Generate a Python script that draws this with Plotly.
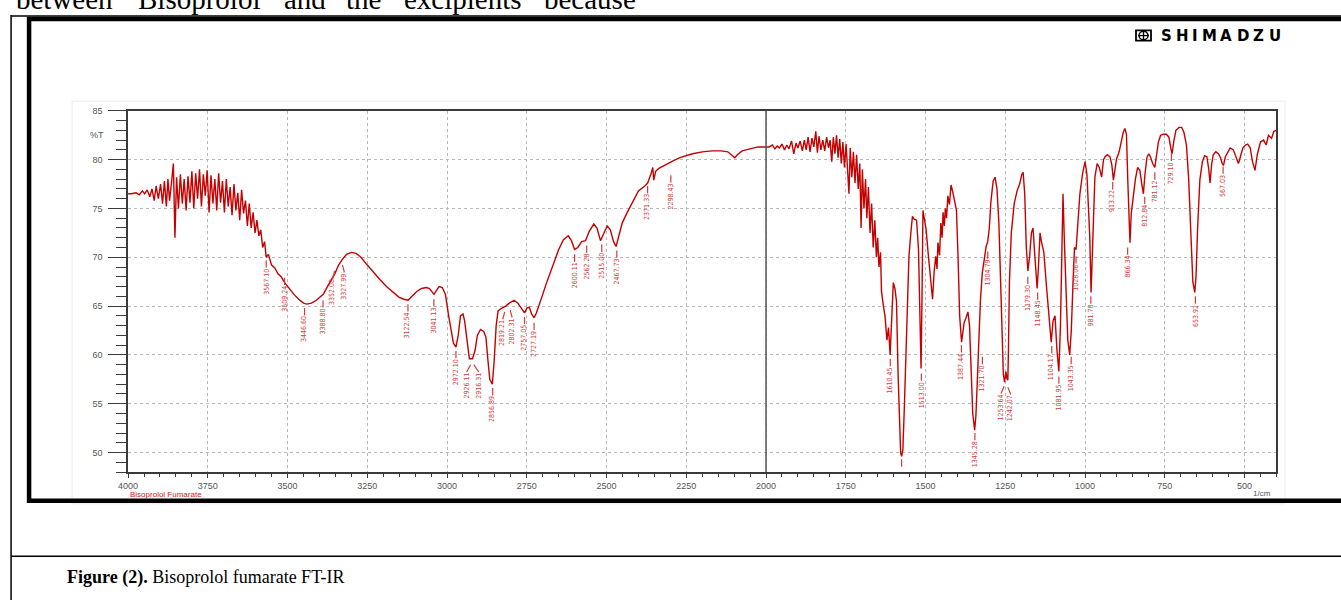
import plotly.graph_objects as go

W, H = 1341, 600

# ---------------- data ----------------
wavenumber = [
    4000, 3990, 3975, 3965, 3955, 3948, 3940, 3932, 3925, 3918, 3912, 3905, 3898, 3892, 3886, 3880,
    3875, 3870, 3864, 3858, 3853, 3848, 3842, 3836, 3830, 3824, 3818, 3812, 3806, 3800, 3794, 3788,
    3782, 3776, 3770, 3764, 3758, 3752, 3746, 3740, 3734, 3728, 3722, 3716, 3710, 3704, 3698, 3692,
    3686, 3680, 3674, 3668, 3662, 3656, 3650, 3644, 3638, 3632, 3626, 3620, 3614, 3608, 3602, 3596,
    3590, 3584, 3578, 3572, 3567, 3560, 3550, 3540, 3530, 3520, 3509, 3495, 3480, 3465, 3450, 3440,
    3425, 3410, 3395, 3388, 3375, 3360, 3352, 3340, 3328, 3315, 3300, 3285, 3270, 3250, 3230, 3210,
    3190, 3170, 3150, 3135, 3122, 3110, 3095, 3080, 3065, 3055, 3045, 3041, 3035, 3025, 3015, 3005,
    2995, 2988, 2980, 2972, 2965, 2958, 2950, 2945, 2938, 2930, 2920, 2912, 2905, 2895, 2885, 2878,
    2872, 2866, 2858, 2852, 2846, 2840, 2828, 2816, 2805, 2790, 2778, 2768, 2757, 2750, 2742, 2735,
    2727, 2720, 2712, 2700, 2690, 2680, 2665, 2650, 2635, 2620, 2610, 2600, 2590, 2578, 2566, 2555,
    2540, 2530, 2519, 2510, 2498, 2488, 2478, 2470, 2460, 2451, 2435, 2420, 2400, 2380, 2371, 2360,
    2355, 2352, 2346, 2336, 2320, 2305, 2290, 2270, 2250, 2230, 2200, 2170, 2140, 2120, 2105, 2098,
    2090, 2075, 2050, 2025, 2000, 1990, 1980, 1972, 1965, 1958, 1950, 1942, 1935, 1928, 1920, 1913,
    1906, 1900, 1893, 1886, 1880, 1874, 1868, 1862, 1856, 1850, 1844, 1839, 1834, 1828, 1822, 1816,
    1810, 1804, 1799, 1794, 1789, 1784, 1779, 1774, 1769, 1764, 1759, 1754, 1749, 1744, 1740, 1736,
    1731, 1726, 1721, 1716, 1711, 1706, 1702, 1698, 1693, 1688, 1684, 1679, 1674, 1669, 1664, 1659,
    1654, 1650, 1646, 1641, 1638, 1632, 1627, 1621, 1616, 1611, 1606, 1601, 1596, 1591, 1586, 1582,
    1578, 1575, 1571, 1566, 1561, 1557, 1552, 1546, 1541, 1536, 1528, 1522, 1517, 1514, 1511, 1508,
    1503, 1498, 1492, 1485, 1478, 1473, 1468, 1464, 1461, 1456, 1452, 1448, 1445, 1441, 1438, 1434,
    1430, 1425, 1420, 1414, 1408, 1403, 1398, 1393, 1387, 1383, 1379, 1373, 1367, 1362, 1357, 1352,
    1346, 1342, 1338, 1334, 1328, 1322, 1316, 1310, 1305, 1300, 1295, 1288, 1282, 1276, 1270, 1265,
    1260, 1256, 1252, 1248, 1245, 1242, 1240, 1237, 1231, 1222, 1213, 1205, 1198, 1194, 1189, 1184,
    1179, 1174, 1168, 1163, 1157, 1150, 1146, 1141, 1136, 1129, 1122, 1116, 1111, 1106, 1100, 1094,
    1088, 1082, 1077, 1073, 1069, 1065, 1060, 1054, 1048, 1043, 1038, 1033, 1028, 1022, 1016, 1008,
    1000, 994, 990, 985, 981, 977, 972, 969, 962, 955, 948, 942, 937, 930, 922, 916,
    911, 906, 901, 893, 886, 880, 875, 870, 866, 862, 859, 855, 849, 842, 835, 828,
    822, 817, 812, 806, 800, 795, 788, 781, 776, 770, 763, 755, 745, 737, 730, 727,
    722, 715, 705, 697, 690, 682, 675, 668, 662, 656, 652, 647, 640, 632, 625, 618,
    612, 608, 603, 598, 590, 582, 575, 570, 566, 560, 553, 545, 535, 527, 519, 512,
    505, 497, 490, 482, 475, 467, 460, 450, 440, 432, 425, 415, 408, 400,
]
transmittance = [
    76.5, 76.5, 76.6, 76.4, 76.8, 76.5, 76.9, 76.2, 77.0, 75.8, 77.3, 76.0, 77.5, 75.5, 77.8, 75.2,
    78.0, 75.8, 77.6, 79.6, 72.0, 78.2, 75.0, 78.5, 75.5, 78.0, 74.8, 78.3, 75.6, 78.8, 75.0, 78.6,
    76.0, 79.0, 75.2, 78.5, 76.3, 78.9, 74.6, 78.4, 75.5, 78.0, 74.8, 78.6, 75.6, 77.8, 74.6, 78.0,
    75.2, 77.2, 74.3, 77.5, 74.8, 76.6, 73.8, 76.9, 74.5, 75.8, 73.2, 75.5, 73.0, 74.6, 72.5, 73.8,
    72.2, 72.8, 71.0, 71.6, 70.0, 70.3, 69.2, 68.9, 68.3, 68.0, 67.4, 66.8, 66.2, 65.7, 65.3, 65.2,
    65.3, 65.6, 66.0, 66.2, 67.0, 67.8, 68.3, 69.2, 69.8, 70.3, 70.5, 70.4, 70.0, 69.2, 68.4, 67.7,
    67.0, 66.4, 65.9, 65.7, 65.6, 66.0, 66.5, 66.8, 66.9, 66.8, 66.3, 66.2, 66.5, 67.0, 66.9, 66.2,
    64.0, 62.5, 61.2, 60.8, 62.0, 64.0, 64.2, 63.5, 61.5, 59.6, 59.6, 60.5, 62.0, 62.6, 62.4, 61.8,
    59.5, 57.5, 57.0, 59.5, 63.0, 64.5, 64.8, 65.0, 65.3, 65.6, 65.3, 64.8, 64.3, 64.8, 64.9, 64.2,
    63.8, 64.3, 65.0, 66.2, 67.2, 68.1, 69.5, 70.8, 71.8, 72.2, 71.7, 70.8, 71.0, 71.6, 71.7, 72.6,
    73.4, 73.0, 71.7, 72.4, 73.2, 72.8, 71.6, 71.1, 72.4, 73.5, 74.6, 75.5, 76.8, 77.3, 77.6, 78.6,
    79.2, 77.9, 78.8, 79.1, 79.4, 79.6, 79.9, 80.2, 80.4, 80.6, 80.8, 80.9, 80.9, 80.8, 80.4, 80.2,
    80.5, 80.9, 81.1, 81.3, 81.3, 81.3, 81.5, 81.1, 81.4, 81.2, 81.6, 81.0, 81.5, 81.1, 81.9, 80.6,
    81.7, 81.2, 81.9, 80.9, 82.0, 81.0, 82.3, 80.8, 82.2, 81.3, 82.9, 80.7, 82.4, 81.0, 82.0, 80.9,
    82.3, 81.2, 82.0, 79.8, 82.3, 80.6, 82.5, 80.2, 82.1, 79.6, 81.8, 79.2, 81.6, 78.6, 76.5, 81.2,
    78.2, 80.8, 77.6, 80.5, 77.0, 79.6, 73.0, 79.0, 75.0, 78.0, 74.0, 77.2, 72.5, 75.5, 71.0, 73.8,
    70.0, 72.0, 69.0, 70.5, 66.5, 65.0, 64.0, 61.5, 62.8, 60.0, 63.5, 67.4, 66.8, 65.5, 58.0, 53.0,
    50.0, 49.6, 50.3, 55.0, 61.0, 66.0, 70.1, 72.5, 74.2, 73.9, 73.8, 70.8, 62.0, 58.6, 66.0, 74.8,
    73.8, 72.8, 70.5, 68.0, 65.7, 68.5, 70.1, 68.8, 71.5, 70.2, 73.5, 72.0, 74.6, 73.2, 75.0, 74.0,
    76.3, 75.4, 77.4, 76.6, 75.5, 74.8, 70.0, 64.0, 61.3, 62.5, 63.3, 63.8, 64.4, 63.0, 58.0, 54.0,
    52.3, 53.8, 57.0, 60.6, 65.5, 68.4, 70.0, 71.1, 71.6, 73.0, 75.7, 77.8, 78.2, 77.0, 73.5, 68.0,
    61.5, 58.0, 57.2, 58.3, 57.6, 57.4, 60.5, 67.4, 72.5, 75.5, 76.8, 77.5, 78.5, 78.7, 76.5, 71.0,
    68.6, 70.0, 72.5, 73.0, 70.0, 66.8, 69.0, 72.5, 71.5, 70.5, 67.5, 65.0, 62.5, 61.3, 63.5, 64.0,
    60.5, 58.3, 63.0, 70.0, 76.5, 72.0, 66.0, 61.5, 60.0, 62.5, 67.0, 71.0, 70.8, 74.0, 76.5, 78.5,
    79.8, 78.5, 76.2, 72.0, 66.4, 70.0, 76.0, 78.2, 79.6, 79.2, 78.2, 80.0, 80.3, 80.5, 80.3, 79.5,
    77.9, 79.2, 80.1, 80.8, 82.0, 82.8, 83.2, 82.6, 78.0, 73.0, 71.5, 74.5, 76.2, 78.0, 79.2, 78.9,
    77.5, 76.5, 78.5, 80.2, 80.6, 80.3, 79.6, 79.2, 80.4, 81.8, 82.5, 82.6, 82.6, 82.3, 81.0, 80.6,
    81.8, 83.0, 83.3, 83.3, 82.8, 81.5, 78.0, 72.0, 67.5, 66.4, 68.0, 73.0, 77.9, 79.8, 80.4, 80.3,
    79.0, 77.6, 79.5, 80.5, 80.8, 80.6, 80.2, 79.6, 79.4, 80.3, 80.8, 81.2, 81.0, 80.3, 79.6, 80.4,
    81.2, 81.5, 81.6, 81.2, 79.8, 78.9, 80.5, 81.8, 82.0, 81.5, 82.5, 82.2, 82.9, 83.0,
]

peak_labels = [
    "3567.10", "3509.24", "3446.60", "3388.80", "3352.08", "3327.99", "3122.54", "3041.13",
    "2972.10", "2926.11", "2916.31", "2856.89", "2819.21", "2802.31", "2757.05", "2727.19",
    "2600.11", "2562.28", "2515.00", "2467.73", "2371.33", "2298.43",
    "1610.45", "1513.00", "1387.44", "1345.28", "1321.70", "1304.79", "1253.64", "1242.07",
    "1179.30", "1148.45", "1104.17", "1081.95", "1043.35", "1028.06",
    "981.70", "913.22", "866.34", "812.84", "781.12", "729.10", "653.92", "567.03",
]
peak_marker_T = [
    69.7, 67.9, 64.8, 65.6, 68.6, 69.2, 65.2, 65.7,
    60.4, 59.0, 59.0, 56.6, 64.4, 64.6, 63.9, 63.3,
    70.3, 71.2, 71.3, 70.7, 77.3, 78.4,
    59.6, 58.1, 61.0, 52.0, 59.8, 70.6, 56.8, 56.7,
    68.0, 66.4, 60.9, 57.8, 59.8, 70.1,
    66.0, 77.7, 71.0, 76.2, 78.7, 80.6, 66.0, 79.3,
]
clipped_peak = 1575.0
clipped_peak_T = 49.3

x_tick_vals = [4000, 3750, 3500, 3250, 3000, 2750, 2500, 2250, 2000, 1750, 1500, 1250, 1000, 750, 500]
x_tick_text = [str(v) for v in x_tick_vals]
y_tick_vals = [50, 55, 60, 65, 70, 75, 80, 85]
y_tick_text = [str(v) for v in y_tick_vals]

top_words = ["between", "Bisoprolol", "and", "the", "excipients", "because"]
top_word_x = [14, 136, 282, 344, 402, 542]
logo_letters = list("SHIMADZU")
logo_letter_x = [1166, 1182, 1195, 1209, 1226, 1243, 1259, 1275]

label_shift = {"2926.11": -4, "2916.31": 5, "3352.08": -2, "3327.99": 2,
               "2819.21": -2, "2802.31": 2, "1253.64": -3, "1242.07": 3}


# the captured page shows x as about 9.9 + 0.9926 * x, so target positions are mapped back
def px(x):
    return ((x - 9.93) / 0.9926) / W


def py(y):
    return 1 - y / H


RED = "#c40000"
LABEL_RED = "#d23c3c"
GRAY = "#555555"
NARROW = "Liberation Sans Narrow, DejaVu Sans Condensed, Arial Narrow, sans-serif"
SANS = "Liberation Sans, Arial, sans-serif"
SERIF = "Liberation Serif, Times New Roman, serif"
PX_PER_WN = (1276.4 - 128) / 3600.0

fig = go.Figure()

fig.add_trace(go.Scatter(
    x=wavenumber, y=transmittance, mode="lines",
    line=dict(color=RED, width=1.4), hoverinfo="skip", showlegend=False,
))

tick_len = 0.75
mx, my = [], []
for lab, t in zip(peak_labels, peak_marker_T):
    w = float(lab)
    dw = -label_shift.get(lab, 0) / PX_PER_WN
    mx += [w, w + dw, None]
    my += [t, t - tick_len, None]
mx += [clipped_peak, clipped_peak, None]
my += [clipped_peak_T, clipped_peak_T - tick_len, None]
fig.add_trace(go.Scatter(
    x=mx, y=my, mode="lines", line=dict(color=LABEL_RED, width=1.2),
    hoverinfo="skip", showlegend=False,
))

for lab, t in zip(peak_labels, peak_marker_T):
    fig.add_annotation(
        x=float(lab), y=t - tick_len, xref="x", yref="y", text=lab,
        xshift=label_shift.get(lab, 0),
        textangle=-90, showarrow=False, xanchor="center", yanchor="top",
        borderpad=0, font=dict(size=7, color=LABEL_RED, family=NARROW),
    )

fig.add_shape(type="line", xref="x", yref="y", x0=2000, x1=2000, y0=48, y1=85,
              line=dict(color="#555555", width=1.5))

shapes = [
    dict(type="rect", xref="paper", yref="paper", x0=px(72), x1=px(1285), y0=py(503), y1=py(97),
         line=dict(color="#ececec", width=1)),
    dict(type="line", xref="paper", yref="paper", x0=px(11), x1=px(11), y0=py(600), y1=py(10),
         line=dict(color="black", width=1.5)),
    dict(type="line", xref="paper", yref="paper", x0=px(11), x1=1.02, y0=py(11), y1=py(11),
         line=dict(color="black", width=1.5)),
    dict(type="line", xref="paper", yref="paper", x0=px(11), x1=1.02, y0=py(556), y1=py(556),
         line=dict(color="black", width=1.5)),
    dict(type="rect", xref="paper", yref="paper", x0=px(29), x1=px(1355), y0=py(500), y1=py(14),
         line=dict(color="black", width=4.5)),
    dict(type="rect", xref="paper", yref="paper", x0=px(1136), x1=px(1151), y0=py(36), y1=py(25.5),
         line=dict(color="black", width=1.8)),
    dict(type="circle", xref="paper", yref="paper", x0=px(1139), x1=px(1148), y0=py(35), y1=py(26.5),
         line=dict(color="black", width=1.4)),
    dict(type="line", xref="paper", yref="paper", x0=px(1143.5), x1=px(1143.5), y0=py(35), y1=py(26.5),
         line=dict(color="black", width=1.3)),
    dict(type="line", xref="paper", yref="paper", x0=px(1138), x1=px(1149), y0=py(30.8), y1=py(30.8),
         line=dict(color="black", width=1.3)),
]
for s in shapes:
    fig.add_shape(**s)

for ch, x in zip(logo_letters, logo_letter_x):
    fig.add_annotation(x=px(x), y=py(30.8), xref="paper", yref="paper", text="<b>%s</b>" % ch,
                       showarrow=False, xanchor="center", yanchor="middle",
                       font=dict(size=15, color="black", family="DejaVu Sans, Arial, sans-serif"))

for word, x in zip(top_words, top_word_x):
    fig.add_annotation(x=px(x), y=py(-6), xref="paper", yref="paper", text=word,
                       showarrow=False, xanchor="left", yanchor="middle",
                       font=dict(size=29, color="black", family=SERIF))

fig.add_annotation(x=px(97), y=py(131), xref="paper", yref="paper", text="%T", showarrow=False,
                   xanchor="center", yanchor="middle", font=dict(size=9, color=GRAY, family=SANS))
fig.add_annotation(x=px(128), y=py(494), xref="paper", yref="paper", text="Bisoprolol Fumarate",
                   showarrow=False, xanchor="left", yanchor="middle",
                   font=dict(size=8, color="#d02020", family=SANS))
fig.add_annotation(x=px(1262), y=py(493), xref="paper", yref="paper", text="1/cm",
                   showarrow=False, xanchor="center", yanchor="middle",
                   font=dict(size=8, color=GRAY, family=SANS))

fig.add_annotation(x=px(65), y=py(577), xref="paper", yref="paper",
                   text="<b>Figure (2).</b> Bisoprolol fumarate FT-IR",
                   showarrow=False, xanchor="left", yanchor="middle",
                   font=dict(size=18, color="black", family=SERIF))

axis_common = dict(
    showline=True, linecolor="#3a3a3a", linewidth=1.5, mirror=True,
    ticks="outside", tickcolor="#3a3a3a", tickwidth=1,
    showgrid=True, gridcolor="#b8b8b8", griddash="dot", gridwidth=1.2,
    zeroline=False, tickfont=dict(size=9, color=GRAY, family=SANS),
)

fig.update_layout(
    width=W, height=H, autosize=False,
    margin=dict(l=0, r=0, t=0, b=0),
    paper_bgcolor="white", plot_bgcolor="white",
    showlegend=False,
    xaxis=dict(
        range=[4000, 400], domain=[px(128), px(1276.4)],
        tickmode="array", tickvals=x_tick_vals, ticktext=x_tick_text, ticklen=4,
        minor=dict(tickmode="linear", tick0=0, dtick=50, ticks="outside", ticklen=3,
                   tickcolor="#3a3a3a", showgrid=False),
        **axis_common,
    ),
    yaxis=dict(
        range=[48, 85], domain=[py(471), py(106.7)],
        tickmode="array", tickvals=y_tick_vals, ticktext=y_tick_text, ticklen=18,
        ticklabelstandoff=4,
        minor=dict(tickmode="linear", tick0=0, dtick=1, ticks="outside", ticklen=10,
                   tickcolor="#3a3a3a", showgrid=False),
        **axis_common,
    ),
)

fig.write_html(
    "out.html",
    config={"displayModeBar": False},
    post_script="document.body.style.margin='0';document.body.style.overflow='hidden';",
)
